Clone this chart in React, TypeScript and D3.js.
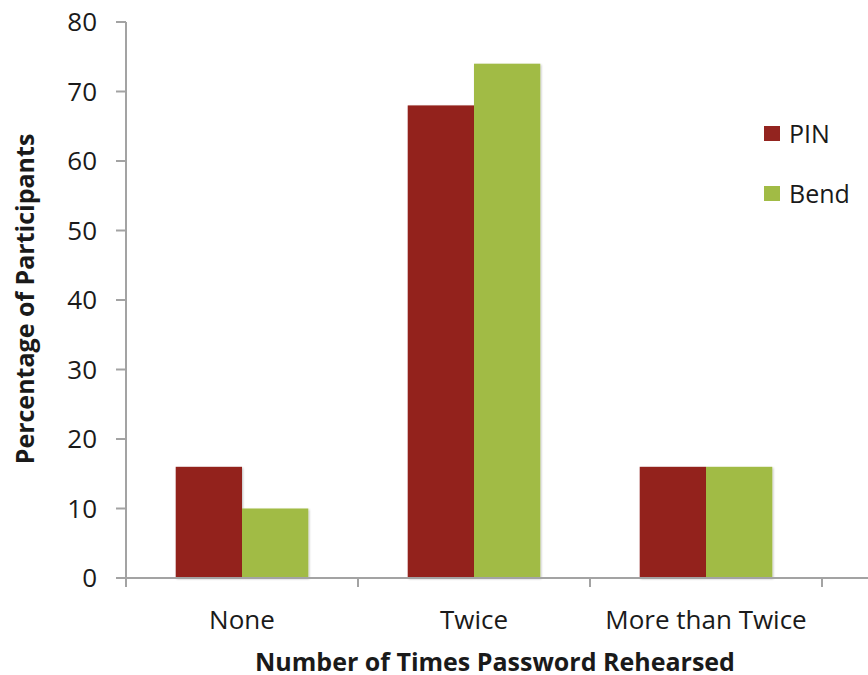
import React from "react";
import * as d3 from "d3";

const categories = ["None", "Twice", "More than Twice"];
const seriesNames = ["PIN", "Bend"];
const pinValues = [16, 68, 16];
const bendValues = [10, 74, 16];
const yTicks = [0, 10, 20, 30, 40, 50, 60, 70, 80];
const colors = ["#93241f", "#a1bb45"];

const W = 868;
const H = 675;
const left = 126;
const right = 822;
const top = 22;
const bottom = 578;
const font = "'Open Sans', 'Liberation Sans', sans-serif";

export default function App() {
  const y = d3.scaleLinear().domain([0, 80]).range([bottom, top]);
  const x = d3.scaleBand<string>().domain(categories).range([left, right]).paddingInner(0).paddingOuter(0);
  // two bars per category, 150% gap width
  const barW = x.bandwidth() / 3.5;
  const values = [pinValues, bendValues];
  const axisColor = "#a3a3a3";
  const textColor = "#1a1a1a";

  return (
    <svg width={W} height={H} style={{ position: "absolute", left: 0, top: 0, background: "#fff" }}>
      <defs>
        <filter id="shadow" x="-10%" y="-10%" width="130%" height="130%">
          <feGaussianBlur in="SourceAlpha" stdDeviation="1.2" />
          <feOffset dx="1" dy="1" result="b" />
          <feComponentTransfer>
            <feFuncA type="linear" slope="0.25" />
          </feComponentTransfer>
          <feMerge>
            <feMergeNode />
            <feMergeNode in="SourceGraphic" />
          </feMerge>
        </filter>
      </defs>
      {/* bars */}
      {categories.map((c, ci) => {
        const center = (x(c) as number) + x.bandwidth() / 2;
        return seriesNames.map((s, si) => {
          const v = values[si][ci];
          const bx = center - barW + si * barW;
          return (
            <rect
              key={c + s}
              x={bx}
              y={y(v)}
              width={barW}
              height={bottom - y(v)}
              fill={colors[si]}
              filter="url(#shadow)"
            />
          );
        });
      })}
      {/* y axis */}
      <line x1={left} x2={left} y1={top} y2={bottom} stroke={axisColor} strokeWidth={2} />
      {yTicks.map((t) => (
        <g key={t}>
          <line x1={left - 10} x2={left} y1={y(t)} y2={y(t)} stroke={axisColor} strokeWidth={2} />
          <text x={97} y={y(t)} dy="0.36em" textAnchor="end" fontFamily={font} fontSize={26} fill={textColor}>
            {t}
          </text>
        </g>
      ))}
      {/* x axis */}
      <line x1={left} x2={W} y1={bottom} y2={bottom} stroke={axisColor} strokeWidth={2} />
      {[...categories.map((c) => x(c) as number), right].map((tx, i) => (
        <line key={i} x1={tx} x2={tx} y1={bottom} y2={bottom + 9} stroke={axisColor} strokeWidth={2} />
      ))}
      {categories.map((c) => (
        <text
          key={c}
          x={(x(c) as number) + x.bandwidth() / 2}
          y={629}
          textAnchor="middle"
          fontFamily={font}
          fontSize={26}
          fill={textColor}
        >
          {c}
        </text>
      ))}
      {/* axis titles */}
      <text x={495} y={671} textAnchor="middle" fontFamily={font} fontSize={25} fontWeight="bold" fill={textColor}>
        Number of Times Password Rehearsed
      </text>
      <text
        transform={`translate(34, 299) rotate(-90)`}
        textAnchor="middle"
        fontFamily={font}
        fontSize={25}
        fontWeight="bold"
        fill={textColor}
      >
        Percentage of Participants
      </text>
      {/* legend */}
      {seriesNames.map((s, i) => (
        <g key={s} transform={`translate(764, ${126 + i * 60})`}>
          <rect x={0} y={0} width={16} height={15} fill={colors[i]} />
          <text x={25} y={17} fontFamily={font} fontSize={25} fill={textColor}>
            {s}
          </text>
        </g>
      ))}
    </svg>
  );
}
